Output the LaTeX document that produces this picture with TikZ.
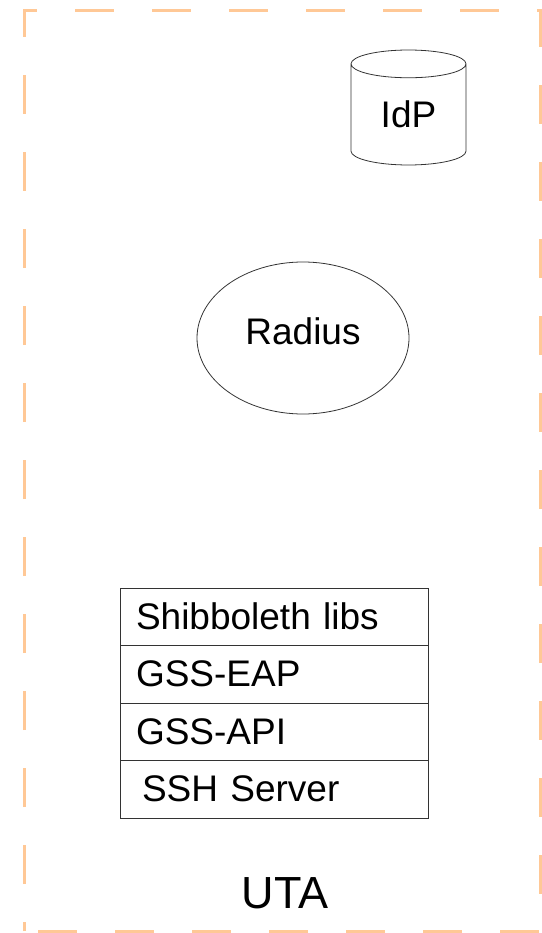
\documentclass[tikz,border=0pt]{standalone}
\usepackage{fontspec}
\setmainfont{Liberation Sans}
\usepackage{xcolor}
\usepackage{tikz}
\usetikzlibrary{positioning}
\usetikzlibrary{shapes.geometric}
\definecolor{utaorange}{RGB}{255,200,150}
\tikzstyle{layer} = [rectangle, draw = black!80, line width = 0.8, minimum width = 308, minimum height = 57.5, text width = 276, align = left, inner sep = 0, outer sep = 0, font = \fontsize{37}{40}\selectfont]
\tikzstyle{server} = [draw = black!80, line width = 0.8, inner sep = 0, font = \fontsize{37}{40}\selectfont]

\begin{document}
\begin{tikzpicture}[x = 1pt, y = -1pt]
\useasboundingbox (0, 0) rectangle (541, 933);
\draw [utaorange, line width = 3, dash pattern = on 39 off 38, dash phase = 30] (24, 931) -- (24, 11) -- (540, 11) -- (540, 931) -- cycle;
\node [server, cylinder, shape border rotate = 90, aspect = 0.5, minimum width = 115, minimum height = 115, anchor = shape center] (idp) at (408.5, 107.5) {IdP};
\node [server, ellipse, minimum width = 212, minimum height = 152, text depth = 13] (radius) at (303, 338) {Radius};
\node [layer] (shib) at (274, 616.75) {Shibboleth libs};
\node [layer, below = 0 of shib] (gsseap) {GSS-EAP};
\node [layer, below = 0 of gsseap] (gssapi) {GSS-API};
\node [layer, below = 0 of gssapi] (sshd) {\hspace*{6pt}SSH Server};
\node [draw = none, font = \fontsize{45}{50}\selectfont] (uta) at (285, 893) {UTA};
\end{tikzpicture}
\end{document}
